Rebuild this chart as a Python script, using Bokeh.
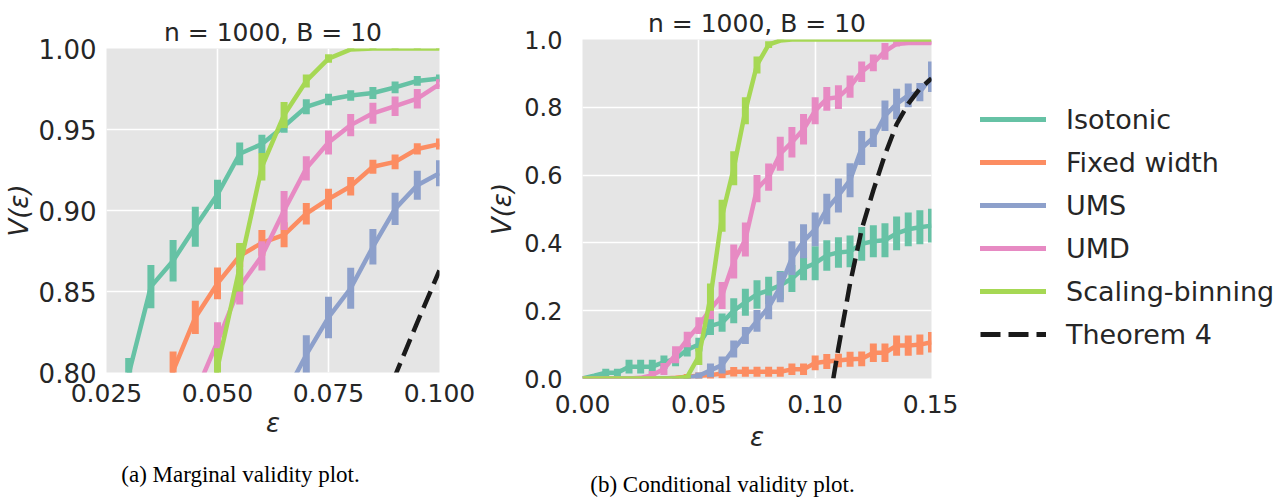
from bokeh.plotting import figure
from bokeh.layouts import row, column
from bokeh.models import FixedTicker, NumeralTickFormatter, Label, Legend, LegendItem, Range1d, Title
from bokeh.embed import file_html
from bokeh.resources import INLINE

FONT = "DejaVu Sans"
SERIF = "Liberation Serif"
TXT = "#262626"
BG = "#e5e5e5"

names = ["Isotonic", "Fixed width", "UMS", "UMD", "Scaling-binning"]
colors = ["#66c2a5", "#fc8d62", "#8da0cb", "#e78ac3", "#a6d854"]

# ---------------- marginal validity (left) ----------------
eps_L = [0.025, 0.030, 0.035, 0.040, 0.045, 0.050, 0.055, 0.060,
         0.065, 0.070, 0.075, 0.080, 0.085, 0.090, 0.095, 0.100]
iso_L = [0.74, 0.799, 0.853, 0.869, 0.890, 0.910, 0.935, 0.941, 0.952, 0.964, 0.9685, 0.971, 0.9725, 0.976, 0.980, 0.9815]
fix_L = [0.70, 0.73, 0.76, 0.801, 0.834, 0.855, 0.872, 0.880, 0.885, 0.898, 0.907, 0.915, 0.927, 0.930, 0.938, 0.941]
ums_L = [0.55, 0.58, 0.61, 0.64, 0.67, 0.70, 0.73, 0.76, 0.785, 0.811, 0.834, 0.852, 0.8776, 0.901, 0.9156, 0.923]
umd_L = [0.65, 0.68, 0.71, 0.74, 0.787, 0.819, 0.853, 0.872, 0.900, 0.926, 0.942, 0.9527, 0.960, 0.9644, 0.969, 0.978]
sb_L = [0.50, 0.55, 0.60, 0.65, 0.70, 0.803, 0.865, 0.927, 0.959, 0.980, 0.9938, 0.9994, 1.0, 1.0, 1.0, 1.0]
iso_eL = [0.01, 0.01, 0.0134, 0.0128, 0.0123, 0.009, 0.007, 0.0057, 0.004, 0.0046, 0.0036, 0.0033, 0.0037, 0.0036, 0.003, 0.0024]
fix_eL = [0.01, 0.01, 0.01, 0.012, 0.0103, 0.0098, 0.007, 0.008, 0.0077, 0.0066, 0.0064, 0.0057, 0.0043, 0.0046, 0.0035, 0.0034]
ums_eL = [0.01, 0.01, 0.01, 0.01, 0.01, 0.01, 0.01, 0.01, 0.012, 0.012, 0.0128, 0.0127, 0.011, 0.010, 0.009, 0.008]
umd_eL = [0.01, 0.01, 0.01, 0.01, 0.012, 0.012, 0.011, 0.009, 0.012, 0.0075, 0.0074, 0.0068, 0.0065, 0.006, 0.006, 0.003]
sb_eL = [0.01, 0.01, 0.01, 0.01, 0.012, 0.012, 0.015, 0.0085, 0.008, 0.004, 0.0026, 0.001, 0.0005, 0.0005, 0.0005, 0.0005]
thm_xL = [0.085, 0.090, 0.095, 0.100]
thm_yL = [0.766, 0.798, 0.831, 0.863]

# ---------------- conditional validity (right) ----------------
eps_R = [0.000, 0.005, 0.010, 0.015, 0.020, 0.025, 0.030, 0.035, 0.040, 0.045,
         0.050, 0.055, 0.060, 0.065, 0.070, 0.075, 0.080, 0.085, 0.090, 0.095,
         0.100, 0.105, 0.110, 0.115, 0.120, 0.125, 0.130, 0.135, 0.140, 0.145, 0.150]
iso_R = [0.0, 0.008, 0.017, 0.017, 0.035, 0.035, 0.035, 0.048, 0.058, 0.085, 0.10,
         0.155, 0.165, 0.20, 0.225, 0.248, 0.26, 0.275, 0.295, 0.325, 0.34,
         0.363, 0.372, 0.375, 0.397, 0.405, 0.408, 0.428, 0.44, 0.446, 0.451]
fix_R = [0, 0, 0, 0, 0, 0, 0, 0, 0.002, 0.005, 0.008,
         0.01, 0.015, 0.02, 0.02, 0.02, 0.02, 0.02, 0.027, 0.027, 0.046,
         0.05, 0.053, 0.057, 0.058, 0.076, 0.076, 0.097, 0.097, 0.10, 0.107]
ums_R = [0, 0, 0, 0, 0, 0, 0, 0, 0, 0.002, 0.008,
         0.024, 0.04, 0.087, 0.127, 0.17, 0.21, 0.27, 0.355, 0.405, 0.44,
         0.50, 0.54, 0.585, 0.68, 0.71, 0.775, 0.81, 0.835, 0.845, 0.89]
umd_R = [0, 0, 0, 0, 0, 0.002, 0.01, 0.028, 0.07, 0.115, 0.156,
         0.205, 0.245, 0.345, 0.41, 0.56, 0.594, 0.663, 0.697, 0.735, 0.79,
         0.825, 0.83, 0.861, 0.905, 0.931, 0.965, 0.987, 0.99, 0.99, 0.99]
sb_R = [0, 0, 0, 0, 0, 0, 0, 0, 0, 0.005, 0.065,
        0.24, 0.48, 0.62, 0.79, 0.925, 0.985, 0.997, 1.0, 1.0, 1.0,
        1.0, 1.0, 1.0, 1.0, 1.0, 1.0, 1.0, 1.0, 1.0, 1.0]
iso_eR = [0.0, 0.004, 0.012, 0.012, 0.02, 0.02, 0.02, 0.02, 0.022, 0.02, 0.02,
          0.027, 0.027, 0.037, 0.04, 0.042, 0.04, 0.042, 0.04, 0.035, 0.05,
          0.045, 0.045, 0.047, 0.05, 0.047, 0.05, 0.05, 0.05, 0.05, 0.05]
fix_eR = [0, 0, 0, 0, 0, 0, 0, 0, 0.005, 0.008, 0.01,
          0.012, 0.014, 0.014, 0.015, 0.015, 0.015, 0.015, 0.017, 0.017, 0.022,
          0.022, 0.02, 0.022, 0.022, 0.027, 0.027, 0.03, 0.03, 0.03, 0.03]
ums_eR = [0, 0, 0, 0, 0, 0, 0, 0, 0, 0.003, 0.01,
          0.02, 0.025, 0.025, 0.025, 0.032, 0.035, 0.045, 0.05, 0.05, 0.05,
          0.045, 0.05, 0.05, 0.05, 0.027, 0.045, 0.045, 0.035, 0.027, 0.045]
umd_eR = [0, 0, 0, 0, 0, 0.005, 0.012, 0.018, 0.025, 0.023, 0.025,
          0.03, 0.04, 0.05, 0.05, 0.04, 0.04, 0.05, 0.045, 0.045, 0.04,
          0.035, 0.035, 0.033, 0.03, 0.025, 0.025, 0.008, 0.005, 0.005, 0.005]
sb_eR = [0, 0, 0, 0, 0, 0, 0, 0, 0, 0.005, 0.025,
         0.04, 0.047, 0.05, 0.04, 0.025, 0.01, 0.003, 0, 0, 0,
         0, 0, 0, 0, 0, 0, 0, 0, 0, 0]
thm_xR = [0.1078, 0.110, 0.115, 0.120, 0.125, 0.130, 0.135, 0.140, 0.145, 0.150]
thm_yR = [0.0, 0.09, 0.28, 0.44, 0.555, 0.66, 0.75, 0.81, 0.855, 0.885]

title_text = "n = 1000, B = 10"
x_label = "\u03b5"
y_label = "V(\u03b5)"
caption_L = "(a) Marginal validity plot."
caption_R = "(b) Conditional validity plot."
legend_labels = names + ["Theorem 4"]
xticks_L = [0.025, 0.05, 0.075, 0.1]
yticks_L = [0.80, 0.85, 0.90, 0.95, 1.00]
xticks_R = [0.0, 0.05, 0.10, 0.15]
yticks_R = [0.0, 0.2, 0.4, 0.6, 0.8, 1.0]

MAIN_H = 458
NAN = float("nan")


def make_fig(xr, yr, fw, fh, bl, br, bt, bb):
    p = figure(x_range=Range1d(*xr), y_range=Range1d(*yr), frame_width=fw, frame_height=fh,
               min_border_left=bl, min_border_right=br, min_border_top=bt, min_border_bottom=bb,
               output_backend="svg", toolbar_location=None)
    p.background_fill_color = BG
    p.border_fill_color = "white"
    p.outline_line_color = None
    p.grid.grid_line_color = "white"
    p.grid.grid_line_width = 1.6
    for ax in p.axis:
        ax.axis_line_color = None
        ax.major_tick_line_color = None
        ax.minor_tick_line_color = None
        ax.major_label_text_font = FONT
        ax.major_label_text_color = TXT
        ax.axis_label_text_font = FONT
        ax.axis_label_text_color = TXT
        ax.axis_label_text_font_style = "italic"
        ax.axis_label_text_font_size = "26px"
    return p


def draw(p, eps, series, errs, thx, thy):
    for vals, e, c in zip(series, errs, colors):
        p.line(eps, vals, line_color=c, line_width=4.5, line_join="round")
        lo = [v - d for v, d in zip(vals, e)]
        hi = [v + d for v, d in zip(vals, e)]
        p.segment(x0=eps, y0=lo, x1=eps, y1=hi, line_color=c, line_width=7)
    p.line(thx, thy, line_color="#1a1a1a", line_width=4.5, line_dash="18 8")


def add_title(p, standoff):
    t = Title(text=title_text, align="center", text_font=FONT, text_font_size="25px",
              text_font_style="normal", text_color=TXT, standoff=standoff)
    p.add_layout(t, "above")


# left figure: frame 333 x 324 at (106, 48)
pL = make_fig((0.025, 0.1), (0.8, 1.0), 333, 324, 106, 41, 48, MAIN_H - 48 - 324)
add_title(pL, 3)
draw(pL, eps_L, [iso_L, fix_L, ums_L, umd_L, sb_L], [iso_eL, fix_eL, ums_eL, umd_eL, sb_eL], thm_xL, thm_yL)
pL.xaxis.ticker = FixedTicker(ticks=xticks_L)
pL.yaxis.ticker = FixedTicker(ticks=yticks_L)
pL.xaxis.formatter = NumeralTickFormatter(format="0.000")
pL.yaxis.formatter = NumeralTickFormatter(format="0.00")
pL.xaxis.major_label_text_font_size = "25px"
pL.yaxis.major_label_text_font_size = "26px"
pL.xaxis.major_label_standoff = 5
pL.yaxis.major_label_standoff = 4
pL.xaxis.axis_label = x_label
pL.yaxis.axis_label = y_label
pL.xaxis.axis_label_standoff = 3
pL.yaxis.axis_label_standoff = 2

# right figure: frame 349 x 339 at (582, 39)
pR = make_fig((0.0, 0.15), (0.0, 1.0), 349, 339, 102, 27, 39, MAIN_H - 39 - 339)
add_title(pR, 4)
draw(pR, eps_R, [iso_R, fix_R, ums_R, umd_R, sb_R], [iso_eR, fix_eR, ums_eR, umd_eR, sb_eR], thm_xR, thm_yR)
pR.xaxis.ticker = FixedTicker(ticks=xticks_R)
pR.yaxis.ticker = FixedTicker(ticks=yticks_R)
pR.xaxis.formatter = NumeralTickFormatter(format="0.00")
pR.yaxis.formatter = NumeralTickFormatter(format="0.0")
pR.xaxis.major_label_text_font_size = "25px"
pR.yaxis.major_label_text_font_size = "24px"
pR.xaxis.major_label_standoff = 10
pR.yaxis.major_label_standoff = 14
pR.xaxis.axis_label = x_label
pR.yaxis.axis_label = y_label
pR.xaxis.axis_label_standoff = 6
pR.yaxis.axis_label_standoff = 4

# legend figure (legend top-left at page (980, 103))
pG = figure(width=328, height=MAIN_H, min_border_left=22, min_border_top=103, min_border_right=0,
            min_border_bottom=0, x_range=Range1d(0, 1), y_range=Range1d(0, 1),
            x_axis_location=None, y_axis_location=None, output_backend="svg", toolbar_location=None)
pG.outline_line_color = None
pG.grid.visible = False
pG.background_fill_color = "white"
pG.border_fill_color = "white"
items = []
for n, c in zip(legend_labels, colors + ["#1a1a1a"]):
    dash = "20 8" if n == "Theorem 4" else "solid"
    cap = "butt" if n == "Theorem 4" else "round"
    r = pG.line([NAN], [NAN], line_color=c, line_width=5, line_cap=cap, line_dash=dash)
    items.append(LegendItem(label=n, renderers=[r]))
leg = Legend(items=items, location="top_left", glyph_width=66, glyph_height=32, label_height=32,
             label_standoff=20, spacing=11, padding=0, margin=0, border_line_color=None,
             background_fill_alpha=0, label_text_font=FONT, label_text_font_size="27px",
             label_text_color=TXT, label_text_baseline="middle")
pG.add_layout(leg)

# caption strip (page y 458..502)
pC = figure(width=1286, height=502 - MAIN_H, min_border=0, x_range=Range1d(0, 1), y_range=Range1d(0, 1),
            x_axis_location=None, y_axis_location=None, output_backend="svg", toolbar_location=None)
pC.outline_line_color = None
pC.grid.visible = False
pC.background_fill_color = "white"
pC.add_layout(Label(x=240, y=28, x_units="screen", y_units="screen", text=caption_L,
                    text_align="center", text_baseline="middle", text_font=SERIF,
                    text_font_size="23px", text_color="black"))
pC.add_layout(Label(x=722, y=18, x_units="screen", y_units="screen", text=caption_R,
                    text_align="center", text_baseline="middle", text_font=SERIF,
                    text_font_size="23px", text_color="black"))

layout = column(row(column(pL), column(pR), column(pG), spacing=0), pC, spacing=0)
open("out.html", "w").write(file_html(layout, INLINE))
